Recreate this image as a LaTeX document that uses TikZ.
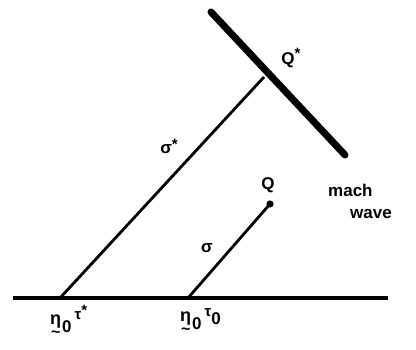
\documentclass[tikz,border=0pt]{standalone}
\usepackage{fontspec}
\setmainfont{Liberation Sans}
\newcommand{\upst}[1]{\raisebox{#1}{\fontsize{15}{15}\selectfont *}}
\newcommand{\tileta}{\ensuremath{\underset{\textstyle\raisebox{2pt}{\fontsize{16}{16}\selectfont\bfseries\char`~}}{\text{\fontsize{18}{18}\selectfont\bfseries η}}}}
\usepackage{amsmath}
\begin{document}
\begin{tikzpicture}[x=1pt,y=-1pt,
  lbl/.style={inner sep=0pt,font=\fontsize{17}{20}\selectfont\bfseries},
  thin/.style={line width=2.8pt},
  wave/.style={line width=7pt,line cap=round}]
\useasboundingbox (0,0) rectangle (416,350);
\coordinate (bl) at (13,298);
\coordinate (br) at (388,298);
\coordinate (A) at (60,298);
\coordinate (B) at (188,298);
\coordinate (Qs) at (264,77);
\coordinate (Q) at (270,204);
\coordinate (w1) at (211,12);
\coordinate (w2) at (345,155);
\draw[line width=3.2pt] (bl) -- (br);
\draw[wave] (w1) -- (w2);
\draw[thin] (A) -- (Qs);
\draw[thin] (B) -- (Q);
\fill (Q) circle (3.6pt);
\node[lbl] (lQs) at (291,58) {Q\upst{6pt}};
\node[lbl] (lQ) at (268,185) {Q};
\node[lbl] (lss) at (169,146) {σ\upst{4pt}};
\node[lbl] (ls) at (207,248) {σ};
\node[lbl,anchor=west] (lm) at (328,190) {mach};
\node[lbl,anchor=west] (lw) at (350,214) {wave};
\node[lbl,anchor=west] (le1) at (50,323) {\tileta\hspace{1pt}\raisebox{-8pt}{0}\hspace{3pt}\raisebox{5pt}{\fontsize{15}{15}\selectfont τ}\upst{9pt}};
\node[lbl,anchor=west] (le2) at (180,323) {\tileta\hspace{1pt}\raisebox{-8pt}{0}\hspace{3pt}\raisebox{5pt}{\fontsize{15}{15}\selectfont τ}\raisebox{-3pt}{0}};
\end{tikzpicture}
\end{document}
